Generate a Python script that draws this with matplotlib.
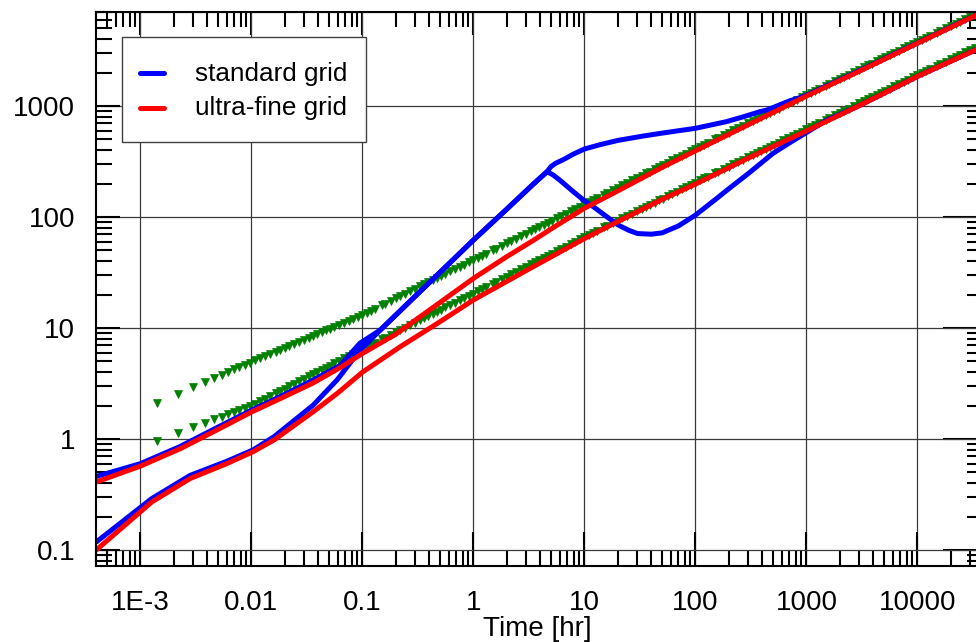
import matplotlib.pyplot as plt
from matplotlib.legend_handler import HandlerLine2D
from matplotlib.ticker import LogLocator, NullFormatter

# ----- values -----
# analytical points (green triangles), shared time axis
t_green = [0.0014, 0.0022, 0.003, 0.0038, 0.0046, 0.0054, 0.0062, 0.007, 0.0078, 0.0087, 0.0097,
           0.0108, 0.012, 0.0133, 0.0148, 0.0165, 0.018,
           0.02, 0.022, 0.024, 0.027, 0.03, 0.033, 0.036, 0.039, 0.043, 0.047, 0.051, 0.056,
           0.062, 0.068, 0.075, 0.082, 0.091,
           0.1, 0.11, 0.12, 0.13, 0.15, 0.16, 0.18, 0.2, 0.22, 0.24, 0.27, 0.3,
           0.33, 0.36, 0.39, 0.43, 0.47, 0.51, 0.56, 0.62, 0.68, 0.75, 0.82, 0.91,
           1, 1.1, 1.2, 1.3, 1.5, 1.6, 1.8, 2, 2.2, 2.4, 2.7, 3,
           3.3, 3.6, 3.9, 4.3, 4.7, 5.1, 5.6, 6.2, 6.8, 7.5, 8.2, 9.1,
           10, 11, 12, 13, 15, 16, 18, 20, 22, 24, 27, 30,
           33, 36, 39, 43, 47, 51, 56, 62, 68, 75, 82, 91,
           100, 110, 120, 130, 150, 160, 180, 200, 220, 240, 270, 300,
           330, 360, 390, 430, 470, 510, 560, 620, 680, 750, 820, 910,
           1000, 1100, 1200, 1300, 1500, 1600, 1800, 2000, 2200, 2400, 2700, 3000,
           3300, 3600, 3900, 4300, 4700, 5100, 5600, 6200, 6800, 7500, 8200, 9100,
           10000, 11000, 12000, 13000, 15000, 16000, 18000, 20000, 22000, 24000, 27000, 30000,
           33000]
p_green_upper = [2.11, 2.57, 2.94, 3.25, 3.54, 3.79, 4.03, 4.24, 4.45, 4.66, 4.89,
                 5.12, 5.35, 5.59, 5.85, 6.12, 6.35,
                 6.64, 6.91, 7.17, 7.54, 7.88, 8.20, 8.51, 8.80, 9.17, 9.52, 9.85, 10.25,
                 10.70, 11.13, 11.60, 12.04, 12.58,
                 13.1, 13.73, 14.34, 14.92, 16.02, 16.54, 17.53, 18.47, 19.37, 20.22, 21.44, 22.59,
                 23.68, 24.73, 25.73, 27.01, 28.22, 29.39, 30.79, 32.38, 33.90, 35.59, 37.20, 39.17,
                 41.0, 43.0, 44.9, 46.7, 50.2, 51.9, 55.0, 58.0, 60.8, 63.5, 67.4, 71.0,
                 74.5, 77.8, 81.0, 85.0, 88.9, 92.6, 97.0, 102.1, 106.9, 112.3, 117.4, 123.7,
                 130, 136.3, 142.4, 148.2, 159.2, 164.4, 174.4, 183.8, 192.8, 201.4, 213.6, 225.2,
                 236.2, 246.7, 256.7, 269.6, 281.8, 293.6, 307.6, 323.7, 339.0, 356.0, 372.3, 392.2,
                 410, 429.5, 448.1, 465.9, 499.5, 515.5, 545.9, 574.6, 601.9, 628.0, 665.1, 700.1,
                 733.3, 765.1, 795.5, 834.2, 871.1, 906.5, 948.7, 997.0, 1042.8, 1093.8, 1142.4, 1201.8,
                 1259, 1317.7, 1373.6, 1427.2, 1528.2, 1576.1, 1667.4, 1753.5, 1835.2, 1913.2, 2024.1,
                 2128.6,
                 2227.8, 2322.5, 2412.9, 2528.2, 2638.1, 2743.1, 2868.5, 3011.5, 3147.5, 3298.5, 3442.2,
                 3617.9,
                 3784, 3960, 4128, 4290, 4593, 4737, 5012, 5270, 5516, 5750, 6084, 6398,
                 6696]
p_green_lower = [0.966, 1.14, 1.28, 1.40, 1.50, 1.59, 1.67, 1.75, 1.82, 1.90, 1.97,
                 2.08, 2.20, 2.31, 2.44, 2.58, 2.70,
                 2.85, 2.99, 3.13, 3.32, 3.50, 3.68, 3.84, 4.00, 4.21, 4.40, 4.59, 4.82,
                 5.07, 5.32, 5.59, 5.85, 6.17,
                 6.47, 6.79, 7.09, 7.38, 7.92, 8.18, 8.68, 9.15, 9.60, 10.02, 10.63, 11.21,
                 11.75, 12.28, 12.78, 13.42, 14.03, 14.61, 15.31, 16.11, 16.87, 17.72, 18.53, 19.52,
                 20.4, 21.42, 22.39, 23.32, 25.09, 25.93, 27.53, 29.05, 30.50, 31.88, 33.86, 35.72,
                 37.50, 39.21, 40.84, 42.92, 44.91, 46.83, 49.11, 51.73, 54.23, 57.00, 59.66, 62.91,
                 66.0, 69.15, 72.16, 75.06, 80.50, 83.09, 88.03, 92.69, 97.12, 101.4, 107.4, 113.1,
                 118.5, 123.6, 128.6, 134.9, 140.9, 146.6, 153.5, 161.4, 168.8, 177.1, 185.1, 194.7,
                 204, 213.6, 222.6, 231.4, 247.8, 255.6, 270.5, 284.5, 297.8, 310.5, 328.6, 345.7,
                 361.8, 377.3, 392.0, 410.9, 428.8, 445.9, 466.4, 489.8, 512.0, 536.6, 560.1, 588.8,
                 616, 645.4, 673.5, 700.5, 751.3, 775.5, 821.6, 865.1, 906.5, 946.0, 1002.2, 1055.3,
                 1105.7, 1154.0, 1200.0, 1258.9, 1314.9, 1368.6, 1432.8, 1506.1, 1575.9, 1653.3, 1727.3,
                 1817.6,
                 1904, 1991, 2074, 2154, 2304, 2375, 2510, 2637, 2758, 2873, 3037, 3191,
                 3337]

# standard grid (blue)
t_std_upper = [0.0004, 0.001, 0.0023, 0.005, 0.01, 0.018, 0.036, 0.063, 0.095, 0.145, 0.3,
               1, 2, 3.5, 4.6, 5.0, 5.5, 6.5, 8, 10, 14, 20, 34, 50, 100, 190, 270, 380,
               440, 700, 870, 1000, 3000, 10000, 34000]
p_std_upper = [0.46, 0.60, 0.86, 1.28, 1.82, 2.4, 3.4, 4.6, 7.3, 9.6, 19.4,
               62, 118, 200, 256, 285, 305, 330, 370, 410, 450, 490, 537, 570, 630, 723, 800, 889,
               920, 1110, 1190, 1250, 2080, 3700, 6620]
t_std_lower = [0.0004, 0.00126, 0.0028, 0.006, 0.0104, 0.016, 0.036, 0.059, 0.095, 0.145, 0.3,
               1, 2, 3.5, 4.6, 5.2, 6, 8, 10, 12, 15, 20, 25, 30, 40, 50, 70, 100, 150, 200,
               300, 500, 700, 1000, 1500, 2000, 3000, 10000, 34000]
p_std_lower = [0.118, 0.29, 0.47, 0.63, 0.80, 1.05, 2.02, 3.4, 6.3, 9.6, 19.4,
               62, 118, 200, 256, 240, 215, 168, 140, 124, 105, 85, 76, 71, 70, 72, 83, 104, 143, 180,
               247, 375, 464, 577, 740, 840, 1010, 1850, 3230]

# ultra-fine grid (red)
t_fine_upper = [0.0004, 0.001, 0.0023, 0.005, 0.01, 0.018, 0.036, 0.063, 0.1, 0.2, 0.5,
                1, 2, 3.5, 5, 10, 20, 50, 100, 300, 1000, 3000, 10000, 34000]
p_fine_upper = [0.41, 0.57, 0.82, 1.22, 1.75, 2.3, 3.2, 4.4, 5.9, 8.8, 17,
                28, 44, 62, 78, 120, 172, 280, 395, 680, 1230, 2060, 3680, 6600]
t_fine_lower = [0.0004, 0.00126, 0.0028, 0.006, 0.0104, 0.016, 0.036, 0.06, 0.1, 0.22, 0.5,
                1, 3, 10, 20, 50, 100, 300, 1000, 3000, 10000, 34000]
p_fine_lower = [0.10, 0.27, 0.44, 0.60, 0.77, 0.98, 1.76, 2.6, 4.0, 6.8, 11.4,
                17.9, 33, 64, 91, 144, 198, 340, 597, 1010, 1850, 3230]

x_ticks = [1e-3, 1e-2, 0.1, 1, 10, 100, 1000, 10000]
x_tick_labels = ['1E-3', '0.01', '0.1', '1', '10', '100', '1000', '10000']
y_ticks = [0.1, 1, 10, 100, 1000]
y_tick_labels = ['0.1', '1', '10', '100', '1000']


class LowerHandle(HandlerLine2D):
    # legend line sits a bit lower, level with the text
    def create_artists(self, legend, orig_handle, xdescent, ydescent, width, height,
                       fontsize, trans):
        artists = super().create_artists(legend, orig_handle, xdescent, ydescent, width,
                                         height, fontsize, trans)
        for a in artists:
            a.set_ydata([y - 3.6 for y in a.get_ydata()])
        return artists


plt.rcParams['font.family'] = ['Liberation Sans', 'DejaVu Sans']

fig = plt.figure(figsize=(9.76, 6.42), dpi=100)
ax = fig.add_axes([96 / 976, 76 / 642, 882 / 976, 554 / 642])
ax.set_xscale('log')
ax.set_yscale('log')

green = '#008000'
ax.plot(t_green, p_green_upper, 'v', color=green, ms=5.6, mew=0.5, ls='none')
ax.plot(t_green, p_green_lower, 'v', color=green, ms=5.6, mew=0.5, ls='none')

lw = 3.6
std_line, = ax.plot(t_std_upper, p_std_upper, color='#0000ff', lw=lw, solid_capstyle='round',
                    label='standard grid')
ax.plot(t_std_lower, p_std_lower, color='#0000ff', lw=lw, solid_capstyle='round')
fine_line, = ax.plot(t_fine_upper, p_fine_upper, color='#ff0000', lw=lw, solid_capstyle='round',
                     label='ultra-fine grid')
ax.plot(t_fine_lower, p_fine_lower, color='#ff0000', lw=lw, solid_capstyle='round')

ax.set_xlim(10 ** -3.40, 10 ** 4.545)
ax.set_ylim(10 ** -1.144, 10 ** 3.847)

ax.set_xticks(x_ticks, x_tick_labels)
ax.set_yticks(y_ticks, y_tick_labels)
ax.xaxis.set_minor_locator(LogLocator(base=10, subs=range(2, 10), numticks=30))
ax.yaxis.set_minor_locator(LogLocator(base=10, subs=range(2, 10), numticks=30))
ax.xaxis.set_minor_formatter(NullFormatter())
ax.yaxis.set_minor_formatter(NullFormatter())

ax.tick_params(axis='x', which='major', direction='in', length=24.5, width=1.5,
               pad=17, labelsize=20, top=False)
ax.tick_params(axis='x', which='minor', direction='in', length=11.5, width=1.5, top=False)
ax.tick_params(axis='y', which='major', direction='in', length=17, width=1.5,
               pad=15, labelsize=20, right=False)
ax.tick_params(axis='y', which='minor', direction='in', length=11.5, width=1.5, right=False)
for s in ax.spines.values():
    s.set_linewidth(1.5)

# top and right ticks have their own lengths
secx = ax.secondary_xaxis('top')
secx.set_xticks(x_ticks)
secx.xaxis.set_minor_locator(LogLocator(base=10, subs=range(2, 10), numticks=30))
secx.xaxis.set_major_formatter(NullFormatter())
secx.xaxis.set_minor_formatter(NullFormatter())
secx.tick_params(which='major', direction='in', length=16.5, width=1.5)
secx.tick_params(which='minor', direction='in', length=10.8, width=1.5)

secy = ax.secondary_yaxis('right')
secy.set_yticks(y_ticks)
secy.yaxis.set_minor_locator(LogLocator(base=10, subs=range(2, 10), numticks=30))
secy.yaxis.set_major_formatter(NullFormatter())
secy.yaxis.set_minor_formatter(NullFormatter())
secy.tick_params(which='major', direction='in', length=25, width=1.5)
secy.tick_params(which='minor', direction='in', length=8, width=1.5)

ax.grid(which='major', color='#3a3a3a', linewidth=0.9)

ax.set_xlabel('Time [hr]', fontsize=20, labelpad=0)

leg = ax.legend(loc='upper left', bbox_to_anchor=(26 / 882, 1 - 25 / 554), borderaxespad=0,
                fontsize=18.8, fancybox=False, edgecolor='#404040', framealpha=1,
                handlelength=0.9, handleheight=1.6, handletextpad=1.2, borderpad=0.7,
                labelspacing=0.05,
                handler_map={std_line: LowerHandle(), fine_line: LowerHandle()})
leg.get_frame().set_linewidth(1.0)

fig.savefig('out.png', dpi=100)
